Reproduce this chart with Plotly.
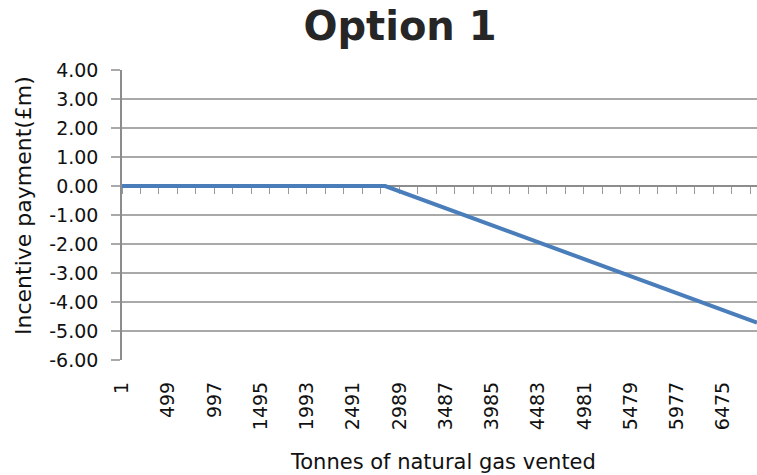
import plotly.graph_objects as go

# Incentive payment against tonnes of natural gas vented
tonnes = [1, 2835, 6840]
payment = [0.0, 0.0, -4.71]

# Category-style axis labels (every 498 tonnes) and y tick labels
x_tick_labels = ["1", "499", "997", "1495", "1993", "2491", "2989",
                 "3487", "3985", "4483", "4981", "5479", "5977", "6475"]
y_tick_values = [4, 3, 2, 1, 0, -1, -2, -3, -4, -5, -6]
y_tick_labels = ["4.00", "3.00", "2.00", "1.00", "0.00", "-1.00",
                 "-2.00", "-3.00", "-4.00", "-5.00", "-6.00"]

X_MIN, X_MAX = 0.5, 6840
Y_MIN, Y_MAX = -6, 4
TICK_STEP = 199  # minor category tick spacing along the zero axis

FONT = "DejaVu Sans"
TEXT = "#111111"
GRID = "#a9a9a9"
AXIS = "#8c8c8c"

fig = go.Figure()
fig.add_trace(go.Scatter(
    x=tonnes, y=payment, mode="lines",
    line=dict(color="#4a7ebb", width=4),
    hoverinfo="x+y", showlegend=False,
))

fig.update_layout(
    width=757, height=475,
    margin=dict(l=122, r=0, t=70, b=115),
    paper_bgcolor="white", plot_bgcolor="white",
    font=dict(family=FONT, color=TEXT, size=19),
    title=dict(
        text="<b>Option 1</b>",
        font=dict(family="DejaVu Sans", size=40, color="#262626"),
        xref="container", yref="container",
        x=400 / 757, xanchor="center",
        y=1 - 26 / 475, yanchor="middle",
    ),
    xaxis=dict(
        range=[X_MIN, X_MAX],
        tickmode="array",
        tickvals=[int(v) for v in x_tick_labels],
        ticktext=x_tick_labels,
        tickangle=-90,
        ticks="", showline=False, showgrid=False, zeroline=False,
        ticklabelstandoff=17,
        tickfont=dict(family=FONT, size=19, color=TEXT),
    ),
    xaxis2=dict(
        overlaying="x", anchor="free", side="bottom",
        position=(0 - Y_MIN) / (Y_MAX - Y_MIN),
        range=[X_MIN, X_MAX],
        tickmode="linear", tick0=0.5, dtick=TICK_STEP,
        ticks="outside", ticklen=7, tickwidth=1.2, tickcolor="#9a9a9a",
        showticklabels=False, showgrid=False, zeroline=False,
        showline=True, linecolor=AXIS, linewidth=1.5,
        layer="below traces",
    ),
    yaxis=dict(
        range=[Y_MIN, Y_MAX],
        tickmode="array",
        tickvals=y_tick_values,
        ticktext=y_tick_labels,
        showgrid=True, gridcolor=GRID, gridwidth=1.5,
        zeroline=False,
        showline=True, linecolor=AXIS, linewidth=1.5,
        ticks="outside", ticklen=9, tickwidth=1.5, tickcolor=GRID,
        ticklabelstandoff=9,
        tickfont=dict(family=FONT, size=19, color=TEXT),
        layer="below traces",
    ),
    annotations=[
        dict(
            text="Tonnes of natural gas vented",
            xref="paper", yref="paper",
            x=(443 - 122) / 635, y=-(462 - 360) / 290,
            xanchor="center", yanchor="middle", showarrow=False,
            font=dict(family=FONT, size=21, color=TEXT),
        ),
        dict(
            text="Incentive payment(£m)",
            xref="paper", yref="paper",
            x=-(122 - 23) / 635, y=(360 - 205) / 290,
            xanchor="center", yanchor="middle", showarrow=False,
            textangle=-90,
            font=dict(family=FONT, size=22, color=TEXT),
        ),
    ],
)

# Invisible point on the overlaid zero axis so that axis is rendered
fig.add_trace(go.Scatter(x=[X_MIN], y=[0], xaxis="x2", mode="markers",
                         marker=dict(opacity=0), hoverinfo="skip",
                         showlegend=False))

fig.write_html("out.html")
